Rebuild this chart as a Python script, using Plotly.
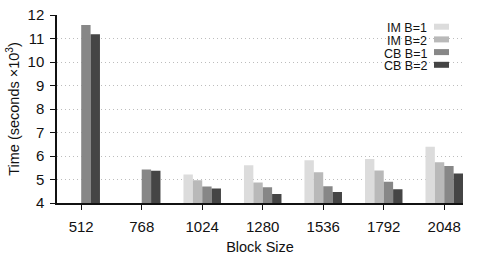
import plotly.graph_objects as go

block_sizes = ["512", "768", "1024", "1280", "1536", "1792", "2048"]
series_names = ["IM B=1", "IM B=2", "CB B=1", "CB B=2"]
series_colors = ["#dcdcdc", "#b9b9b9", "#878787", "#454545"]
im_b1 = [None, None, 5.21, 5.61, 5.82, 5.87, 6.39]
im_b2 = [None, None, 4.97, 4.87, 5.31, 5.38, 5.73]
cb_b1 = [11.57, 5.43, 4.70, 4.67, 4.71, 4.90, 5.57]
cb_b2 = [11.18, 5.37, 4.62, 4.38, 4.47, 4.58, 5.26]
series_values = [im_b1, im_b2, cb_b1, cb_b2]
y_ticks = [4, 5, 6, 7, 8, 9, 10, 11, 12]

FONT = "Liberation Sans, Arial, Helvetica, sans-serif"
W, H = 488, 255
ML, MR, MT, MB = 57, 25, 15, 52
PW, PH = W - ML - MR, H - MT - MB

xpos = list(range(len(block_sizes)))
fig = go.Figure()
for name, color, vals in zip(series_names, series_colors, series_values):
    fig.add_trace(go.Bar(x=xpos, y=vals, name=name, marker_color=color,
                         marker_line_width=0, showlegend=False))

# custom legend (text right-aligned, swatch on the right)
def px_to_paper_x(px):
    return (px - ML) / PW

def px_to_paper_y(py):
    return 1 - (py - MT) / PH

for i, (name, color) in enumerate(zip(series_names, series_colors)):
    cy = 26.7 + i * 12.7
    fig.add_shape(type="rect", xref="paper", yref="paper",
                  x0=px_to_paper_x(434), x1=px_to_paper_x(449),
                  y0=px_to_paper_y(cy - 3), y1=px_to_paper_y(cy + 3),
                  fillcolor=color, line_width=0)
    fig.add_annotation(xref="paper", yref="paper", x=px_to_paper_x(428),
                       y=px_to_paper_y(cy + 1.5), text=name, showarrow=False,
                       xanchor="right", yanchor="middle", borderpad=0,
                       font=dict(family=FONT, size=12.5, color="#111"))

fig.update_layout(
    width=W, height=H,
    margin=dict(l=ML, r=MR, t=MT, b=MB, autoexpand=False),
    paper_bgcolor="white", plot_bgcolor="white",
    barmode="group", bargap=0.38, bargroupgap=0,
    font=dict(family=FONT, size=15, color="#111"),
    showlegend=False,
)
fig.update_xaxes(
    range=[-0.40, 6.31], tickvals=xpos, ticktext=block_sizes,
    ticks="outside", ticklen=5, tickcolor="#111", tickwidth=1,
    showline=True, linecolor="#111", linewidth=1.5,
    showgrid=False, zeroline=False, ticklabelstandoff=4, automargin=False,
    title=dict(text="Block Size", font=dict(size=14.5), standoff=13),
    tickfont=dict(size=15),
)
fig.update_yaxes(
    range=[4, 12], tickvals=y_ticks,
    ticks="outside", ticklen=5, tickcolor="#111", tickwidth=1,
    showline=True, linecolor="#111", linewidth=1.5,
    showgrid=True, gridcolor="#bdbdbd", griddash="1px,3px", gridwidth=1,
    zeroline=False, ticklabelstandoff=3, automargin=False,
    title=dict(text="Time (seconds ×10<sup>3</sup>)", font=dict(size=14.5), standoff=4),
    tickfont=dict(size=15),
)

fig.write_html("out.html")
